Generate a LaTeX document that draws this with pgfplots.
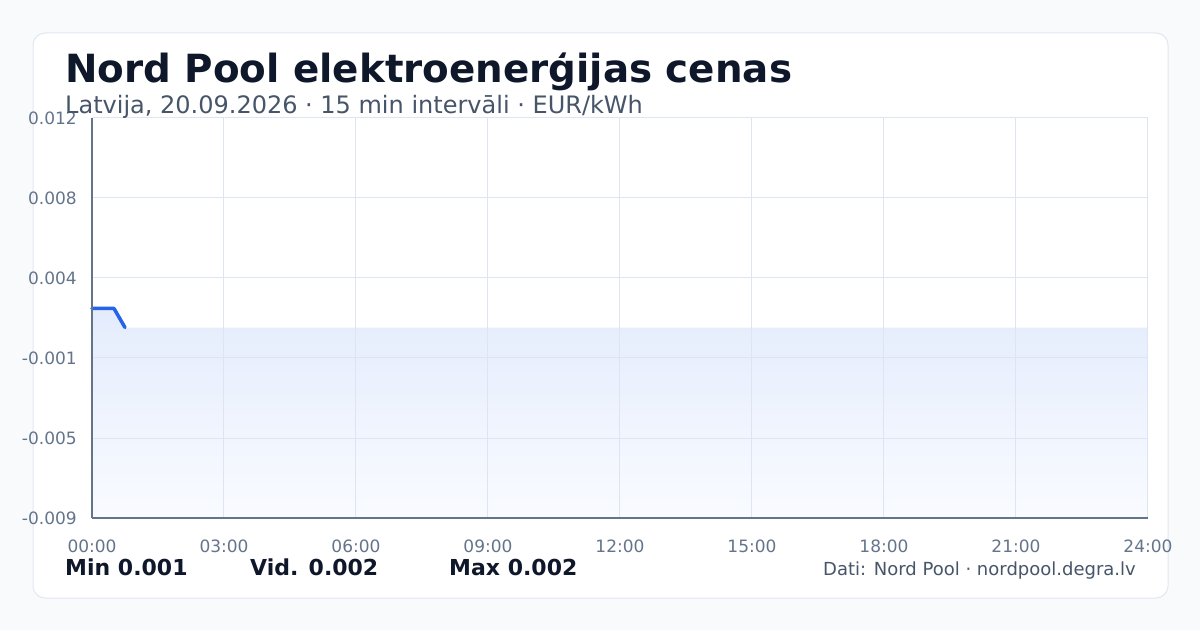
\documentclass[border=0pt]{standalone}
\usepackage{pgfplots}
\pgfplotsset{compat=1.18}
\usepackage{fontspec}
\setmainfont{DejaVu Sans}

\definecolor{pagebg}{RGB}{248,250,252}
\definecolor{cardline}{RGB}{226,232,240}
\definecolor{gridcol}{RGB}{221,229,243}
\definecolor{axiscol}{RGB}{100,116,139}
\definecolor{tickcol}{RGB}{100,116,139}
\definecolor{titlecol}{RGB}{15,23,42}
\definecolor{subcol}{RGB}{71,85,105}
\definecolor{lineblue}{RGB}{37,99,235}
\definecolor{filltop}{RGB}{228,236,252}
\definecolor{fillbot}{RGB}{249,251,255}

\begin{document}
\begin{tikzpicture}[x=1pt,y=1pt]
% page and card
\fill[pagebg] (0,0) rectangle (1200,630);
\draw[cardline, fill=white, line width=1pt, rounded corners=12pt] (33,32) rectangle (1168,597);

\begin{axis}[
    at={(92pt,112pt)}, anchor=south west,
    width=1056pt, height=400pt, scale only axis,
    xmin=0, xmax=24, ymin=-0.009, ymax=0.012,
    axis x line*=bottom, axis y line*=left,
    axis line style={axiscol, line width=1.5pt},
    axis on top,
    xtick={0,3,6,9,12,15,18,21,24},
    xticklabels={00:00,03:00,06:00,09:00,12:00,15:00,18:00,21:00,24:00},
    ytick={-0.009,-0.0048,-0.0006,0.0036,0.0078,0.012},
    scaled ticks=false,
    yticklabel={\pgfmathprintnumber[fixed,fixed zerofill,precision=3]{\tick}},
    /pgf/number format/assume math mode=true,
    major tick length=0pt,
    grid=major,
    major grid style={gridcol, line width=1pt},
    x tick label style={font=\fontsize{17}{20}\selectfont, text=tickcol, anchor=center, yshift=-28pt},
    y tick label style={font=\fontsize{17}{20}\selectfont, text=tickcol, anchor=east, inner sep=0pt, xshift=-15pt},
    clip=false,
]
% shaded area under the series
\addplot[draw=none, top color=filltop, bottom color=fillbot]
    coordinates {(0,-0.009) (0,0.002) (0.25,0.002) (0.5,0.002) (0.75,0.001) (24,0.001) (24,-0.009)} -- cycle;
% price series, 15 min steps
\addplot[lineblue, line width=3.5pt, line join=round, line cap=round]
    coordinates {(0,0.002) (0.25,0.002) (0.5,0.002) (0.75,0.001)};
\end{axis}

% titles
\node[anchor=base west, inner sep=0pt, text=titlecol, font=\fontsize{38.8}{44}\selectfont\bfseries]
    at (65,547) {Nord Pool elektroenerģijas cenas};
\node[anchor=base west, inner sep=0pt, text=subcol, font=\fontsize{24}{28}\selectfont]
    at (65,516) {Latvija, 20.09.2026 · 15 min intervāli · EUR/kWh};

% summary row
\node[anchor=base west, inner sep=0pt, text=titlecol, font=\fontsize{22}{26}\selectfont\bfseries]
    at (65,55) {Min 0.001};
\node[anchor=base west, inner sep=0pt, text=titlecol, font=\fontsize{22}{26}\selectfont\bfseries]
    at (250,55) {Vid. 0.002};
\node[anchor=base west, inner sep=0pt, text=titlecol, font=\fontsize{22}{26}\selectfont\bfseries]
    at (449,55) {Max 0.002};
\node[anchor=base east, inner sep=0pt, text=subcol, font=\fontsize{18}{22}\selectfont]
    at (1136,55) {Dati: Nord Pool · nordpool.degra.lv};
\end{tikzpicture}
\end{document}
